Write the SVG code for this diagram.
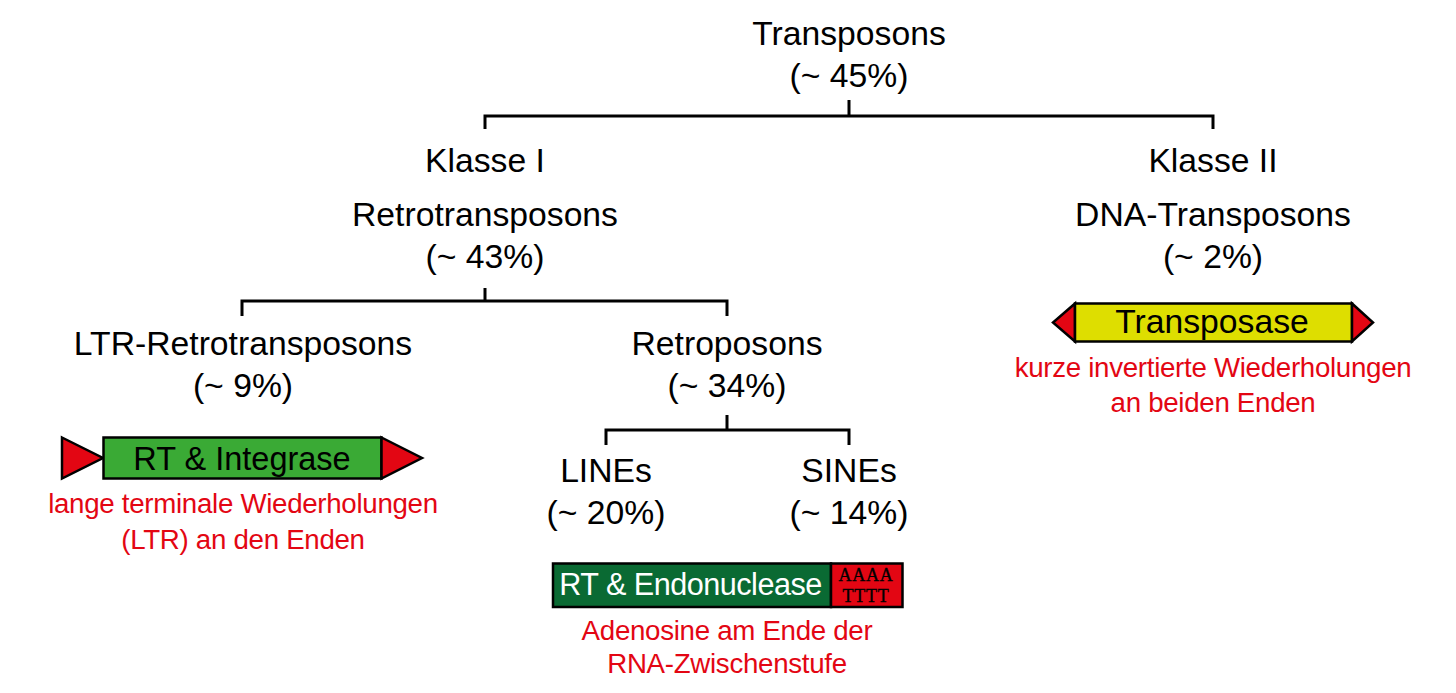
<svg xmlns="http://www.w3.org/2000/svg" width="1456" height="693" viewBox="0 0 1456 693">
<style>
.t{font-family:"Liberation Sans",Arial,sans-serif;font-size:33.7px;fill:#000;text-anchor:middle}
.r{font-family:"Liberation Sans",Arial,sans-serif;font-size:27.7px;fill:#e30613;text-anchor:middle;letter-spacing:-0.3px}
.c{fill:none;stroke:#000;stroke-width:3}
.box{stroke:#000;stroke-width:2.5}
.tri{fill:#e30613;stroke:#000;stroke-width:2.5;stroke-linejoin:miter}
.s{font-family:"Liberation Serif","Times New Roman",serif;font-size:18px;fill:#000;stroke:#000;stroke-width:0.35;text-anchor:middle;letter-spacing:0.8px}
</style>
<rect width="1456" height="693" fill="#fff"/>
<g id="connectors">
<path class="c" d="M849 100V116M485 129V116H1213V129"/>
<path class="c" d="M485 288V301M242 316V301H727V316"/>
<path class="c" d="M727 415V430M606 445V430H849V445"/>
</g>
<g id="transposons">
<text class="t" x="849" y="45">Transposons</text>
<text class="t" x="849" y="87">(~ 45%)</text>
</g>
<g id="klasse1">
<text class="t" x="485" y="172">Klasse I</text>
<text class="t" x="485" y="226">Retrotransposons</text>
<text class="t" x="485" y="268">(~ 43%)</text>
</g>
<g id="klasse2">
<text class="t" x="1213" y="172">Klasse II</text>
<text class="t" x="1213" y="226">DNA-Transposons</text>
<text class="t" x="1213" y="268">(~ 2%)</text>
</g>
<g id="ltr">
<text class="t" x="243" y="355">LTR-Retrotransposons</text>
<text class="t" x="243" y="397">(~ 9%)</text>
</g>
<g id="retroposons">
<text class="t" x="727" y="355">Retroposons</text>
<text class="t" x="727" y="397">(~ 34%)</text>
</g>
<g id="lines">
<text class="t" x="606" y="482">LINEs</text>
<text class="t" x="606" y="524">(~ 20%)</text>
</g>
<g id="sines">
<text class="t" x="849" y="482">SINEs</text>
<text class="t" x="849" y="524">(~ 14%)</text>
</g>
<g id="ltr-element">
<polygon class="tri" points="62,437.5 103,458 62,478.5"/>
<rect class="box" x="103.5" y="437.5" width="278" height="41" fill="#3aaa35"/>
<polygon class="tri" points="381.5,437.5 422,458 381.5,478.5"/>
<text class="t" x="242" y="470" style="font-size:32.5px">RT &amp; Integrase</text>
<text class="r" x="243" y="513">lange terminale Wiederholungen</text>
<text class="r" x="243" y="549">(LTR) an den Enden</text>
</g>
<g id="line-element">
<rect class="box" x="553" y="563.5" width="278" height="43.5" fill="#0a6a33"/>
<rect class="box" x="831" y="563.5" width="71.5" height="43.5" fill="#e30613"/>
<text x="690.5" y="595" style="font-family:'Liberation Sans',Arial,sans-serif;font-size:30.6px;fill:#fff;text-anchor:middle;letter-spacing:-0.5px">RT &amp; Endonuclease</text>
<text class="s" x="866" y="580.5">AAAA</text>
<text class="s" x="866" y="602">TTTT</text>
<text class="r" x="727" y="640">Adenosine am Ende der</text>
<text class="r" x="727" y="673">RNA-Zwischenstufe</text>
</g>
<g id="dna-element">
<polygon class="tri" points="1075,303.5 1053,322.5 1075,341.5"/>
<rect class="box" x="1075" y="303.5" width="277" height="38" fill="#dede00"/>
<polygon class="tri" points="1352,303.5 1373,322.5 1352,341.5"/>
<text class="t" x="1212" y="333">Transposase</text>
<text class="r" x="1213" y="377">kurze invertierte Wiederholungen</text>
<text class="r" x="1213" y="412">an beiden Enden</text>
</g>
</svg>
